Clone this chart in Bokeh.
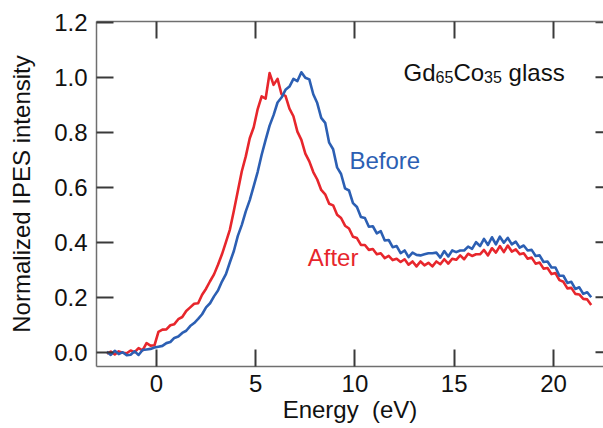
from bokeh.plotting import figure
from bokeh.models import Range1d, LinearAxis, FixedTicker, NumeralTickFormatter, Label, CustomJSTickFormatter
from bokeh.embed import file_html
from bokeh.resources import INLINE

energy = [-2.5, -2.3, -2.1, -1.9, -1.7, -1.5, -1.3, -1.1, -0.9, -0.7,
          -0.5, -0.3, -0.1, 0.1, 0.3, 0.5, 0.7, 0.9, 1.1, 1.3,
          1.5, 1.7, 1.9, 2.1, 2.3, 2.5, 2.7, 2.9, 3.1, 3.3,
          3.5, 3.7, 3.9, 4.1, 4.3, 4.5, 4.7, 4.9, 5.1, 5.3,
          5.5, 5.7, 5.9, 6.1, 6.3, 6.5, 6.7, 6.9, 7.1, 7.3,
          7.5, 7.7, 7.9, 8.1, 8.3, 8.5, 8.7, 8.9, 9.1, 9.3,
          9.5, 9.7, 9.9, 10.1, 10.3, 10.5, 10.7, 10.9, 11.1, 11.3,
          11.5, 11.7, 11.9, 12.1, 12.3, 12.5, 12.7, 12.9, 13.1, 13.3,
          13.5, 13.7, 13.9, 14.1, 14.3, 14.5, 14.7, 14.9, 15.1, 15.3,
          15.5, 15.7, 15.9, 16.1, 16.3, 16.5, 16.7, 16.9, 17.1, 17.3,
          17.5, 17.7, 17.9, 18.1, 18.3, 18.5, 18.7, 18.9, 19.1, 19.3,
          19.5, 19.7, 19.9, 20.1, 20.3, 20.5, 20.7, 20.9, 21.1, 21.3,
          21.5, 21.7, 21.9]

after = [-0.005, 0.002, -0.008, 0.003, -0.002, -0.004, 0.006, 0.000, 0.015, 0.007,
         0.033, 0.024, 0.025, 0.074, 0.082, 0.083, 0.098, 0.102, 0.120, 0.128,
         0.150, 0.163, 0.176, 0.178, 0.209, 0.231, 0.258, 0.283, 0.318, 0.356,
         0.400, 0.446, 0.514, 0.586, 0.658, 0.712, 0.778, 0.818, 0.884, 0.930,
         0.922, 1.015, 0.972, 0.994, 0.938, 0.932, 0.886, 0.858, 0.802, 0.772,
         0.722, 0.694, 0.655, 0.628, 0.590, 0.574, 0.540, 0.534, 0.500, 0.488,
         0.460, 0.450, 0.420, 0.415, 0.390, 0.390, 0.372, 0.375, 0.356, 0.360,
         0.342, 0.350, 0.335, 0.340, 0.328, 0.338, 0.318, 0.330, 0.312, 0.330,
         0.316, 0.325, 0.312, 0.330, 0.320, 0.338, 0.322, 0.340, 0.336, 0.352,
         0.338, 0.358, 0.350, 0.356, 0.356, 0.372, 0.352, 0.378, 0.362, 0.386,
         0.364, 0.388, 0.366, 0.374, 0.356, 0.360, 0.340, 0.344, 0.322, 0.326,
         0.304, 0.306, 0.284, 0.288, 0.262, 0.256, 0.232, 0.234, 0.212, 0.210,
         0.194, 0.192, 0.172]

before = [0.002, -0.010, 0.005, -0.007, 0.000, -0.011, -0.009, 0.003, -0.010, 0.008,
          0.010, 0.012, 0.017, 0.020, 0.023, 0.033, 0.037, 0.052, 0.057, 0.070,
          0.078, 0.095, 0.106, 0.121, 0.138, 0.163, 0.178, 0.203, 0.224, 0.257,
          0.284, 0.327, 0.368, 0.423, 0.463, 0.512, 0.553, 0.604, 0.656, 0.718,
          0.772, 0.824, 0.862, 0.908, 0.926, 0.954, 0.966, 0.994, 0.986, 1.018,
          0.998, 0.992, 0.938, 0.906, 0.852, 0.834, 0.762, 0.738, 0.672, 0.648,
          0.596, 0.588, 0.542, 0.528, 0.492, 0.488, 0.456, 0.458, 0.432, 0.440,
          0.406, 0.408, 0.382, 0.386, 0.360, 0.370, 0.346, 0.362, 0.354, 0.352,
          0.356, 0.360, 0.360, 0.362, 0.344, 0.368, 0.348, 0.370, 0.364, 0.370,
          0.370, 0.384, 0.376, 0.400, 0.386, 0.412, 0.390, 0.418, 0.392, 0.420,
          0.398, 0.416, 0.392, 0.402, 0.380, 0.388, 0.370, 0.372, 0.350, 0.352,
          0.328, 0.330, 0.308, 0.308, 0.278, 0.278, 0.252, 0.256, 0.230, 0.236,
          0.212, 0.218, 0.200]

x_ticks = [0, 5, 10, 15, 20]
y_ticks = [0.0, 0.2, 0.4, 0.6, 0.8, 1.0, 1.2]

FONT = "Liberation Sans"
BLUE = "#2c5fb3"
RED = "#e7262c"
AXIS = "#6f6f6f"
TICK = "#3a3a3a"
INK = "#111111"

X0, X1 = -3.02, 22.52
Y0, Y1 = -0.052, 1.2025
PX_PER_X = 507 / (X1 - X0)

p = figure(width=603, height=428, output_backend="svg", toolbar_location=None,
           x_range=Range1d(X0, X1), y_range=Range1d(Y0, Y1),
           min_border_left=96, min_border_right=0, min_border_top=21, min_border_bottom=62)
p.outline_line_color = None
p.xgrid.visible = False
p.ygrid.visible = False
p.background_fill_color = "white"
p.border_fill_color = "white"


def style(ax):
    ax.major_tick_line_color = TICK
    ax.major_tick_line_width = 2
    ax.minor_tick_line_color = None
    ax.major_tick_in = 17
    ax.major_tick_out = 0
    ax.axis_line_color = AXIS
    ax.axis_line_width = 1.5
    ax.major_label_text_font = FONT
    ax.major_label_text_font_size = "24px"
    ax.major_label_text_color = INK
    ax.axis_label_text_font = FONT
    ax.axis_label_text_font_size = "24px"
    ax.axis_label_text_font_style = "normal"
    ax.axis_label_text_color = INK


xa = p.xaxis[0]
xa.ticker = FixedTicker(ticks=x_ticks)
style(xa)
xa.major_label_standoff = 8
xa.axis_label = "Energy\u00a0 (eV)"
xa.axis_label_standoff = 1

ya = p.yaxis[0]
ya.ticker = FixedTicker(ticks=y_ticks)
ya.formatter = NumeralTickFormatter(format="0.0")
style(ya)
ya.major_label_standoff = 9
ya.axis_label = "Normalized IPES intensity"
ya.axis_label_standoff = 16

top = LinearAxis(ticker=FixedTicker(ticks=x_ticks))
style(top)
top.formatter = CustomJSTickFormatter(code="return ''")
top.major_label_standoff = 0
top.major_label_text_font_size = "1px"
p.add_layout(top, "above")

# right-hand inward ticks (the right frame edge lies just outside the picture)
NAN = float("nan")
tr = 8 / PX_PER_X
tick_x, tick_y = [], []
for t in y_ticks:
    tick_x += [X1 - tr, X1, NAN]
    tick_y += [t, t, NAN]
p.line(tick_x, tick_y, line_color=TICK, line_width=2)

p.line(energy, after, line_color=RED, line_width=2.6, line_join="round")
p.line(energy, before, line_color=BLUE, line_width=2.6, line_join="round")

SHIFT = 10 / (345 / (Y1 - Y0))

p.add_layout(Label(x=9.72, y=0.661 + SHIFT, text="Before", text_font=FONT, text_font_size="24px",
                   text_color=BLUE, text_baseline="alphabetic"))
p.add_layout(Label(x=7.62, y=0.309 + SHIFT, text="After", text_font=FONT, text_font_size="24px",
                   text_color=RED, text_baseline="alphabetic"))

parts = [("Gd", 0, 0, "24px"), ("65", 32.0, -5, "16px"), ("Co", 49.8, 0, "24px"),
         ("35", 80.5, -5, "16px"), ("glass", 105.0, 0, "24px")]
for txt, dx, dy, fs in parts:
    p.add_layout(Label(x=12.45, y=0.982 + SHIFT, x_offset=dx, y_offset=dy, text=txt, text_font=FONT,
                       text_font_size=fs, text_color=INK, text_baseline="alphabetic"))

open("out.html", "w").write(file_html(p, INLINE))
